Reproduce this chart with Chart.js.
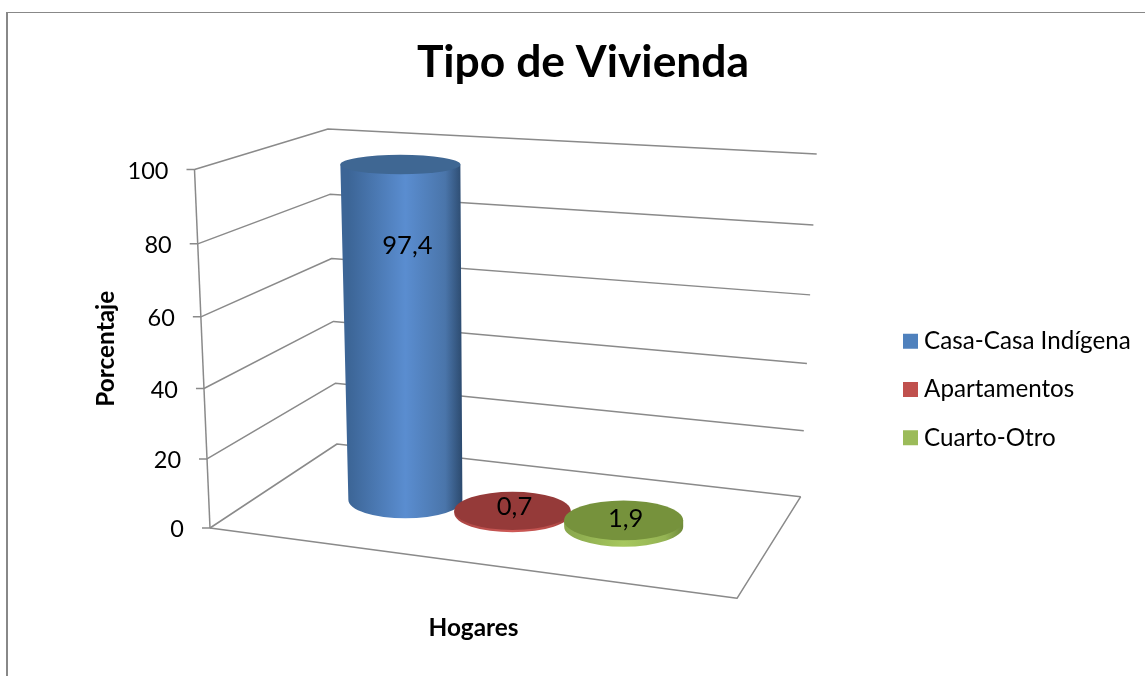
<!DOCTYPE html>
<html><head><meta charset="utf-8">
<style>html,body{margin:0;padding:0;background:#fff;overflow:hidden}canvas{display:block}</style>
<script src="https://cdn.jsdelivr.net/npm/chart.js@4"></script>
</head><body><canvas id="c" width="1145" height="676"></canvas>
<script>
const categories = ['Hogares'];
const seriesNames = ['Casa-Casa Indígena', 'Apartamentos', 'Cuarto-Otro'];
const casaValues = [97.4];
const apartamentosValues = [0.7];
const cuartoValues = [1.9];
const yTickLabels = ['0', '20', '40', '60', '80', '100'];
const legendColors = ['#4F81BD', '#C0504D', '#9BBB59'];
const topColors = ['#3F6793', '#953A39', '#76923C'];
const sideStops = [
  ['#3C6596', '#5A8DD0', '#4A75AA', '#2C4A6E'],
  ['#A94543', '#CF5A57', '#B84C49', '#8F3A38'],
  ['#88A64C', '#A6C75E', '#94B353', '#6F8A3A']
];
const labelNudge = [-6, -5, -3];
const LINE = '#8A8A8A';

const CURVE = 1.047;
class PerspectiveScale extends Chart.LinearScale {
  static id = 'perspective';
  static defaults = {};
  getPixelForValue(v) {
    const t = (v - this.min) / (this.max - this.min);
    const f = t / (t + CURVE * (1 - t));
    return this.bottom - (this.bottom - this.top) * f;
  }
  getValueForPixel(p) {
    const f = (this.bottom - p) / (this.bottom - this.top);
    const t = CURVE * f / (1 - f + CURVE * f);
    return this.min + t * (this.max - this.min);
  }
  _computeLabelItems(area) {
    const items = super._computeLabelItems(area);
    items.forEach((it, i) => {
      const y = this.getPixelForTick(i);
      it.options.translation[0] = frontX(this, y) - 26;
      it.options.translation[1] = y + 1.5;
      it.options.textAlign = 'right';
    });
    return items;
  }
}
function frac(s, y) { return (s.bottom - y) / (s.bottom - s.top); }
function frontX(s, y) { return s.left + s.width - 15.5 * frac(s, y); }
Chart.register(PerspectiveScale);

const fmt = v => String(v).replace('.', ',');

const scene = {
  id: 'scene',
  beforeLayout(chart) {
    const l = chart.legend;
    if (l && !l._patched) {
      const f = l.fit;
      l.fit = function () { f.call(this); this.width = 408; };
      l._patched = true;
    }
  },
  afterLayout(chart) {
    const l = chart.legend;
    const pad = l.options.labels.padding;
    l.left = 909 - pad; l.right = 1145;
    l.top += 51.5; l.bottom += 51.5;
  },
  beforeDraw(chart) {
    const c = chart.ctx;
    c.save();
    c.fillStyle = '#888888';
    c.fillRect(6, 12, 2, 664);
    c.fillRect(6, 12, 1139, 1);
    c.restore();
  },
  beforeDatasetsDraw(chart) {
    const c = chart.ctx, s = chart.scales.y, x = chart.scales.x;
    c.save();
    c.strokeStyle = LINE; c.lineWidth = 1.5; c.lineJoin = 'round';
    s.ticks.forEach(tk => {
      const y = s.getPixelForValue(tk.value), p = frac(s, y), fx = frontX(s, y);
      c.beginPath();
      c.moveTo(fx - 8, y); c.lineTo(fx, y);
      c.lineTo(337 - 9 * p, 444 - 315 * p);
      c.lineTo(800.7 + 16 * p, 496.7 - 342.7 * p);
      c.stroke();
    });
    c.beginPath();
    c.moveTo(frontX(s, s.top), s.top); c.lineTo(frontX(s, s.bottom), s.bottom);
    c.stroke();
    c.beginPath();
    c.moveTo(x.left, s.bottom); c.lineTo(x.right, 598.3); c.lineTo(800.7, 496.7);
    c.stroke();
    c.restore();
  },
  beforeDatasetDraw() { return false; },
  afterDatasetsDraw(chart) {
    const c = chart.ctx, s = chart.scales.y, y0 = s.getPixelForValue(0);
    const labels = [];
    const firstX = chart.getDatasetMeta(0).data[0].x;
    chart.data.datasets.forEach((ds, i) => {
      const el = chart.getDatasetMeta(i).data[0];
      const d = el.x - firstX;
      const bx = firstX + 41.5 + 0.9587 * d + 0.000169 * d * d, by = 500 + (bx - 405) * 0.122;
      const h = (y0 - el.y) * 0.962, k = h / 335;
      const rxB = 57 + (bx - 405) * 0.0115, ryB = 18.3 + (bx - 405) * 0.008;
      const tx = bx - 5 * k, ty = by - h, rxT = rxB + 3 * k, ryT = ryB - 8.6 * k;
      c.save();
      const g = c.createLinearGradient(bx - rxB, 0, bx + rxB, 0);
      const st = sideStops[i];
      g.addColorStop(0, st[0]); g.addColorStop(0.5, st[1]); g.addColorStop(0.85, st[2]); g.addColorStop(1, st[3]);
      c.fillStyle = g;
      c.beginPath();
      c.moveTo(tx - rxT, ty);
      c.lineTo(bx - rxB, by);
      c.ellipse(bx, by, rxB, ryB, 0, Math.PI, 0, true);
      c.lineTo(tx + rxT, ty);
      c.closePath();
      c.fill();
      c.fillStyle = topColors[i];
      c.beginPath();
      c.ellipse(tx, ty, rxT, ryT, 0, 0, Math.PI * 2);
      c.fill();
      c.restore();
      labels.push([fmt(ds.data[0]), bx + 2, ty + 0.26 * h + labelNudge[i]]);
    });
    c.save();
    c.fillStyle = '#000';
    c.font = '25.5px Lato';
    c.textAlign = 'center';
    c.textBaseline = 'middle';
    labels.forEach(l => c.fillText(l[0], l[1], l[2]));
    c.restore();
  }
};

Chart.defaults.font.family = 'Lato';
Chart.defaults.color = '#000';

new Chart(document.getElementById('c'), {
  type: 'bar',
  plugins: [scene],
  data: {
    labels: categories,
    datasets: seriesNames.map((name, i) => ({
      label: name,
      data: [casaValues, apartamentosValues, cuartoValues][i],
      backgroundColor: legendColors[i],
      borderColor: legendColors[i],
      borderWidth: 12
    }))
  },
  options: {
    responsive: false,
    animation: false,
    layout: { padding: { left: 21, right: 0, top: 0, bottom: 0 } },
    categoryPercentage: 0.624,
    barPercentage: 1,
    plugins: {
      tooltip: { enabled: false },
      title: {
        display: true, text: 'Tipo de Vivienda', color: '#000',
        font: { family: 'Lato', size: 44.4, weight: 'bold', lineHeight: 1.2 },
        padding: { top: 36.4, bottom: 79.8 }
      },
      legend: {
        position: 'right',
        labels: {
          boxWidth: 3, boxHeight: 3, padding: 24, color: '#000',
          font: { family: 'Lato', size: 24.2 }
        }
      }
    },
    scales: {
      x: {
        grid: { display: false }, border: { display: false },
        ticks: { display: false },
        afterFit: a => { a.height = 148; },
        title: {
          display: true, text: 'Hogares', color: '#000',
          font: { family: 'Lato', size: 24.4, weight: 'bold', lineHeight: 1.2 },
          padding: { top: 0, bottom: 33.4 }
        }
      },
      y: {
        type: 'perspective', min: 0, max: 100,
        grid: { display: false }, border: { display: false },
        ticks: {
          stepSize: 20, color: '#000', font: { family: 'Lato', size: 23.5 },
          callback: (v) => yTickLabels[v / 20]
        },
        afterFit: a => { a.width = 189; },
        title: {
          display: true, text: 'Porcentaje', color: '#000',
          font: { family: 'Lato', size: 24.4, weight: 'bold', lineHeight: 1.2 },
          padding: { top: 70.4, bottom: 0 }
        }
      }
    }
  }
});
</script>
</body></html>
